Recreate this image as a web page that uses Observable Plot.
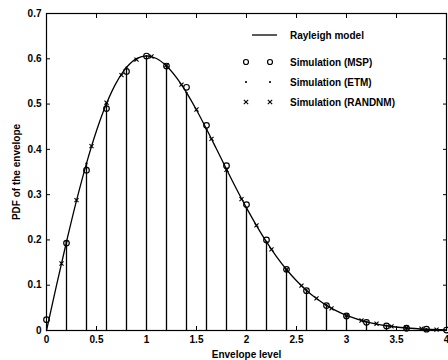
<!DOCTYPE html>
<html><head><meta charset="utf-8">
<script src="https://cdn.jsdelivr.net/npm/d3@7"></script>
<script src="https://cdn.jsdelivr.net/npm/@observablehq/plot@0.6"></script>
<style>
body{margin:0;background:#fff;}
#wrap{position:relative;width:448px;height:360px;font-family:"Liberation Sans",Arial,sans-serif;}
#legend{position:absolute;left:0;top:0;}
</style></head>
<body><div id="wrap"></div>
<script>
// Rayleigh model curve
const curveX = [0,0.1,0.2,0.3,0.4,0.5,0.6,0.7,0.8,0.9,1.0,1.1,1.2,1.3,1.4,1.5,1.6,1.7,1.8,1.9,2.0,2.1,2.2,2.3,2.4,2.5,2.6,2.7,2.8,2.9,3.0,3.2,3.4,3.6,3.8,4.0];
const curveY = [0,0.0995,0.196,0.2868,0.3692,0.4412,0.5012,0.5479,0.5809,0.6003,0.6065,0.6007,0.5841,0.5585,0.5254,0.487,0.4448,0.4007,0.3562,0.3125,0.2707,0.2317,0.1956,0.1633,0.1347,0.1098,0.0885,0.0706,0.0555,0.0432,0.0333,0.0191,0.0105,0.0055,0.0028,0.0013];
// Simulation (MSP)
const mspX = [0,0.2,0.4,0.6,0.8,1.0,1.2,1.4,1.6,1.8,2.0,2.2,2.4,2.6,2.8,3.0,3.2,3.4,3.6,3.8,4.0];
const mspY = [0.024,0.193,0.354,0.49,0.572,0.606,0.584,0.537,0.453,0.364,0.278,0.2,0.135,0.088,0.055,0.032,0.018,0.01,0.005,0.003,0.001];
// Simulation (ETM)
const etmX = [0.2,0.4,0.6,0.8,1.0,1.2,1.4,1.6,1.8,2.0,2.2,2.4,2.6,2.8,3.0,3.2,3.4,3.6,3.8];
const etmY = [0.196,0.369,0.501,0.581,0.606,0.584,0.525,0.445,0.356,0.271,0.196,0.135,0.089,0.056,0.033,0.019,0.011,0.006,0.003];
// Simulation (RANDNM)
const rndX = [0.15,0.3,0.45,0.6,0.75,0.9,1.05,1.2,1.35,1.5,1.65,1.8,1.95,2.1,2.25,2.4,2.55,2.7,2.85,3.0,3.15,3.3,3.45,3.6,3.75,3.9];
const rndY = [0.148,0.288,0.407,0.503,0.564,0.598,0.605,0.586,0.543,0.488,0.423,0.355,0.29,0.232,0.179,0.134,0.099,0.071,0.049,0.033,0.022,0.015,0.009,0.006,0.004,0.002];
// ticks
const xTicks = [0,0.5,1,1.5,2,2.5,3,3.5,4];
const xTickLabels = ["0","0.5","1","1.5","2","2.5","3","3.5","4"];
const yTicks = [0,0.1,0.2,0.3,0.4,0.5,0.6,0.7];
const yTickLabels = ["0","0.1","0.2","0.3","0.4","0.5","0.6","0.7"];
const legendLabels = ["Rayleigh model","Simulation (MSP)","Simulation (ETM)","Simulation (RANDNM)"];

const curve = curveX.map((x,i)=>({x,y:curveY[i]}));
const msp = mspX.map((x,i)=>({x,y:mspY[i]}));
const etm = etmX.map((x,i)=>({x,y:etmY[i]}));
const rnd = rndX.map((x,i)=>({x,y:rndY[i]}));

const tl = 4; // tick length px
const chart = Plot.plot({
  width:448, height:360,
  marginLeft:46, marginRight:2, marginTop:13, marginBottom:30,
  style:{fontFamily:'"Liberation Sans",Arial,sans-serif',fontSize:"10px",fontWeight:"bold",color:"black",background:"white"},
  x:{domain:[0,4]},
  y:{domain:[0,0.7]},
  marks:[
    Plot.ruleX(etm,{x:"x",y1:0,y2:"y",stroke:"black",strokeWidth:1.3}),
    Plot.line(curve,{x:"x",y:"y",stroke:"black",strokeWidth:1.3,curve:"catmull-rom"}),
    Plot.dot(etm,{x:"x",y:"y",r:1.1,fill:"black"}),
    Plot.dot(msp,{x:"x",y:"y",r:2.8,stroke:"black",strokeWidth:1.2,fill:"none"}),
    Plot.dot(rnd,{x:"x",y:"y",r:2,symbol:"times",stroke:"black",strokeWidth:1.1}),
    // labelled axes
    Plot.axisX({anchor:"bottom",ticks:xTicks,tickSize:0,tickPadding:5,tickFormat:d=>xTickLabels[xTicks.indexOf(d)],
      label:"Envelope level",labelAnchor:"center",labelArrow:"none",labelOffset:27}),
    Plot.axisY({anchor:"left",ticks:yTicks,tickSize:0,tickPadding:5,tickFormat:d=>yTickLabels[yTicks.indexOf(d)],
      label:"PDF of the envelope",labelAnchor:"center",labelArrow:"none",labelOffset:34}),
    // inward tick marks on all sides
    Plot.axisX({anchor:"bottom",ticks:xTicks,tickSize:-tl,text:null,label:null,stroke:"black"}),
    Plot.axisX({anchor:"top",ticks:xTicks,tickSize:-tl,text:null,label:null,stroke:"black"}),
    Plot.axisY({anchor:"left",ticks:yTicks,tickSize:-tl,text:null,label:null,stroke:"black"}),
    Plot.axisY({anchor:"right",ticks:yTicks,tickSize:-tl,text:null,label:null,stroke:"black"}),
    Plot.frame({stroke:"black",strokeWidth:1.2})
  ]
});
document.getElementById("wrap").appendChild(chart);

// legend overlay
const lg=d3.select("#wrap").append("svg").attr("id","legend").attr("width",448).attr("height",360)
  .style("font-family",'"Liberation Sans",Arial,sans-serif').style("font-size","10px").style("font-weight","bold");
const rows=[35,62,82,102];
const mx=[246,270];
lg.append("line").attr("x1",252).attr("x2",277).attr("y1",rows[0]).attr("y2",rows[0]).attr("stroke","black").attr("stroke-width",1.3);
mx.forEach(x=>{
  lg.append("circle").attr("cx",x).attr("cy",rows[1]).attr("r",2.5).attr("fill","none").attr("stroke","black").attr("stroke-width",1.2);
  lg.append("circle").attr("cx",x).attr("cy",rows[2]).attr("r",1.1).attr("fill","black");
  lg.append("path").attr("d",d3.symbol(d3.symbolTimes,14)()).attr("transform",`translate(${x},${rows[3]})`).attr("stroke","black").attr("stroke-width",1.1);
});
legendLabels.forEach((t,i)=>lg.append("text").attr("x",290).attr("y",rows[i]+3.5).text(t));
</script></body></html>
